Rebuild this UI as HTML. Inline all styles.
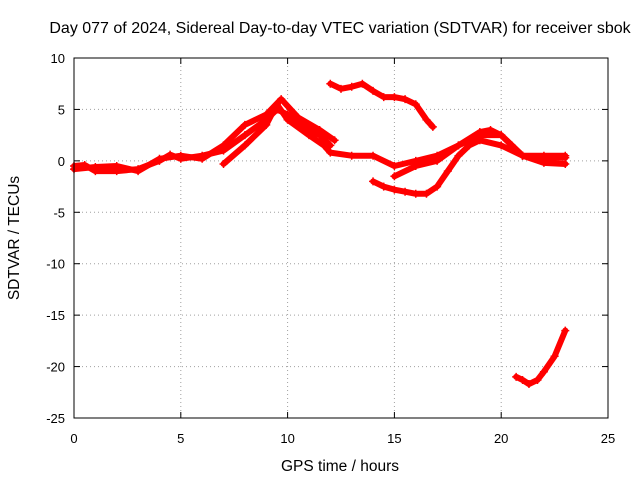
<!DOCTYPE html>
<html><head><meta charset="utf-8"><style>
body{margin:0;background:#fff}
svg text{font-family:"Liberation Sans",sans-serif;font-size:13px;fill:#000}
svg text.big{font-size:15.5px}
svg text.title{font-size:16px}
</style></head><body>
<svg width="640" height="480">
<rect width="640" height="480" fill="#fff"/>
<text class="title" x="340" y="33" text-anchor="middle">Day 077 of 2024, Sidereal Day-to-day VTEC variation (SDTVAR) for receiver sbok</text>
<g id="grid"></g><g id="axes"></g><g id="series"></g>
<rect x="74" y="58" width="534" height="360" fill="none" stroke="#000" stroke-width="1"/>
<text class="big" x="340" y="471" text-anchor="middle">GPS time / hours</text>
<text class="big" x="19" y="238" text-anchor="middle" transform="rotate(-90 19 238)">SDTVAR / TECUs</text>
</svg>
<script>
const xTicks=[0,5,10,15,20,25];
const yTicks=[10,5,0,-5,-10,-15,-20,-25];
const trackAHours=[0,0.5,1,2,3,4,4.5,5,6,7,8,9,9.5,10,11,11.5,12];
const trackAVals=[-0.5,-0.4,-1,-1,-0.8,0,0.6,0.2,0.5,1,2.5,4,5,4.5,3,2.5,1.5];
const trackA2Hours=[0,1,2,3,4,5,6,7,8,9,9.7,10.5,11.5,12.2];
const trackA2Vals=[-0.8,-0.6,-0.5,-1,0.2,0.5,0.2,1.5,3.5,4.5,6,4.2,3,2];
const trackBHours=[7,8,9,9.5,10,11,11.7,12,13,14,15,16,17,18,19,20,21,22,23];
const trackBVals=[-0.3,1.5,3.5,5.5,4,2.5,1.5,0.8,0.5,0.5,-0.5,0,0.5,1.5,2.5,2.5,0.5,0.3,0.3];
const trackCHours=[12,12.5,13,13.5,14,14.5,15,15.5,16,16.5,16.8];
const trackCVals=[7.5,7,7.2,7.5,6.8,6.2,6.2,6,5.5,4,3.3];
const trackDHours=[14,14.5,15,15.5,16,16.5,17,17.5,18,18.5,19,20,21,22,23];
const trackDVals=[-2,-2.5,-2.8,-3,-3.2,-3.2,-2.5,-1,0.5,1.5,2,1.5,0.5,-0.2,-0.3];
const trackEHours=[15,16,17,18,19,19.5,20,20.5,21,22,23];
const trackEVals=[-1.5,-0.5,0,1.5,2.8,3,2.5,1.5,0.5,0.5,0.5];
const trackFHours=[20.7,21,21.3,21.7,22,22.5,23];
const trackFVals=[-21,-21.3,-21.7,-21.3,-20.5,-19,-16.5];
const tracks=[[trackAHours,trackAVals],[trackA2Hours,trackA2Vals],[trackBHours,trackBVals],[trackCHours,trackCVals],[trackDHours,trackDVals],[trackEHours,trackEVals],[trackFHours,trackFVals]];
const X0=74,X1=608,Y0=58,Y1=418;
const sx=v=>X0+(v-0)/(25-0)*(X1-X0);
const sy=v=>Y0+(10-v)/(10+25)*(Y1-Y0);
const NS='http://www.w3.org/2000/svg';
function mk(t,a,p){const e=document.createElementNS(NS,t);for(const k in a)e.setAttribute(k,a[k]);p.appendChild(e);return e;}
const grid=document.getElementById('grid'),axes=document.getElementById('axes'),ser=document.getElementById('series');
xTicks.forEach(t=>{const x=sx(t);
 if(t>0&&t<25){const g=mk('line',{x1:x,x2:x,y1:Y0,y2:Y1,stroke:'#a0a0a0','stroke-dasharray':'1,3'},grid);
 
 }
 mk('line',{x1:x,x2:x,y1:Y1,y2:Y1-6,stroke:'#000'},axes);
 mk('line',{x1:x,x2:x,y1:Y0,y2:Y0+6,stroke:'#000'},axes);
 const l=mk('text',{x:x,y:Y1+25,'text-anchor':'middle'},axes);l.textContent=t;
 
 
});
yTicks.forEach(t=>{const y=sy(t);
 if(t<10&&t>-25){const g=mk('line',{x1:X0,x2:X1,y1:y,y2:y,stroke:'#a0a0a0','stroke-dasharray':'1,3'},grid);
 
 }
 mk('line',{x1:X0,x2:X0+6,y1:y,y2:y,stroke:'#000'},axes);
 mk('line',{x1:X1,x2:X1-6,y1:y,y2:y,stroke:'#000'},axes);
 const l=mk('text',{x:X0-9,y:y+5,'text-anchor':'end'},axes);l.textContent=t;
 
 
});
tracks.forEach((tr,i)=>{
 const [hs,vs]=tr;
 const pts=hs.map((h,j)=>sx(h)+','+sy(vs[j])).join(' ');
 const pl=mk('polyline',{points:pts,fill:'none',stroke:'#ff0000','stroke-width':6,'stroke-linejoin':'round','stroke-linecap':'round'},ser);
 
 
 hs.forEach((h,j)=>{const x=sx(h),y=sy(vs[j]);
  const p=mk('path',{d:`M${x-4},${y}H${x+4}M${x},${y-4}V${y+4}`,stroke:'#ff0000','stroke-width':1.5},ser);
  
  
 });
});
</script>
</body></html>
